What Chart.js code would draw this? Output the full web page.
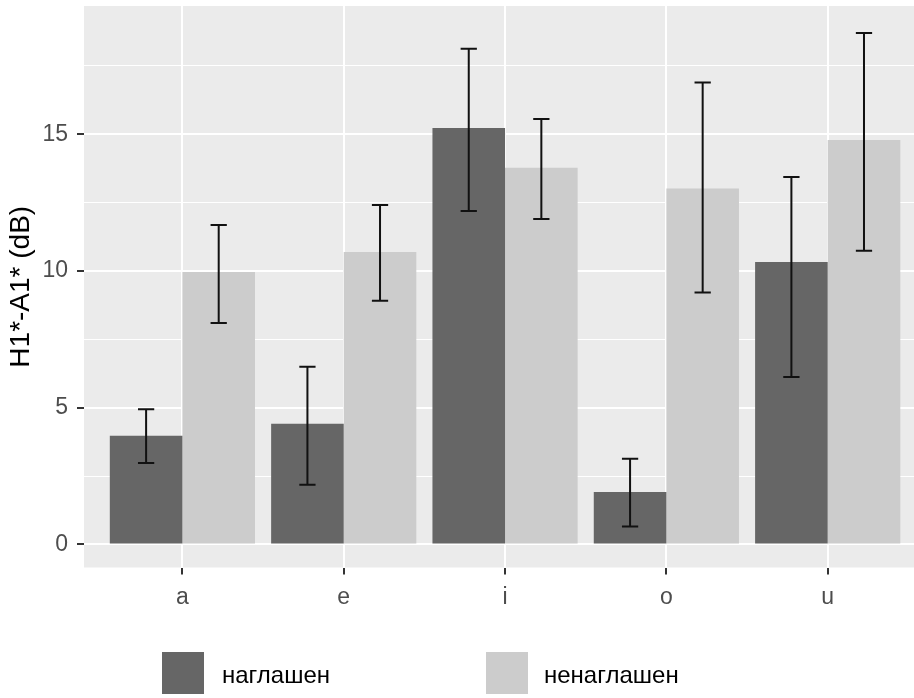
<!DOCTYPE html>
<html>
<head>
<meta charset="utf-8">
<script src="https://cdn.jsdelivr.net/npm/chart.js@4/dist/chart.umd.min.js"></script>
<style>
html,body{margin:0;padding:0;background:#fff;}
#wrap{width:914px;height:698px;position:relative;}
</style>
</head>
<body>
<div id="wrap"><canvas id="c" width="914" height="698"></canvas></div>
<script>
const categories = ['a', 'e', 'i', 'o', 'u'];
const seriesNames = ['наглашен', 'ненаглашен'];
const voicedMeans = [3.97, 4.41, 15.23, 1.92, 10.33];
const voicedLow = [2.98, 2.18, 12.19, 0.65, 6.12];
const voicedHigh = [4.94, 6.50, 18.13, 3.13, 13.44];
const unvoicedMeans = [9.96, 10.69, 13.77, 13.02, 14.79];
const unvoicedLow = [8.10, 8.91, 11.90, 9.21, 10.74];
const unvoicedHigh = [11.68, 12.41, 15.56, 16.89, 18.70];
const yTicks = [0, 2.5, 5, 7.5, 10, 12.5, 15, 17.5];
const yTitle = 'H1*-A1* (dB)';

const FONT = "'Liberation Sans', Arial, sans-serif";
const colors = ['#666666', '#cccccc'];
const lows = [voicedLow, unvoicedLow];
const highs = [voicedHigh, unvoicedHigh];

const panelBg = {
  id: 'panelBg',
  beforeDraw(chart) {
    const {ctx, chartArea: a} = chart;
    ctx.save();
    ctx.fillStyle = '#ebebeb';
    ctx.fillRect(a.left, a.top, a.right - a.left, a.bottom - a.top);
    ctx.restore();
  }
};

const errorBars = {
  id: 'errorBars',
  afterDatasetsDraw(chart) {
    const {ctx} = chart;
    const ys = chart.scales.y;
    ctx.save();
    ctx.strokeStyle = '#111111';
    ctx.lineWidth = 2;
    chart.data.datasets.forEach((ds, di) => {
      const meta = chart.getDatasetMeta(di);
      meta.data.forEach((bar, j) => {
        const x = bar.x;
        const half = bar.width * 0.112;
        const yl = ys.getPixelForValue(lows[di][j]);
        const yh = ys.getPixelForValue(highs[di][j]);
        ctx.beginPath();
        ctx.moveTo(x, yl); ctx.lineTo(x, yh);
        ctx.moveTo(x - half, yl); ctx.lineTo(x + half, yl);
        ctx.moveTo(x - half, yh); ctx.lineTo(x + half, yh);
        ctx.stroke();
      });
    });
    ctx.restore();
  }
};

const bottomLegend = {
  id: 'bottomLegend',
  afterDraw(chart) {
    const {ctx} = chart;
    const items = [
      {box: 162, text: 222},
      {box: 486, text: 544}
    ];
    ctx.save();
    ctx.font = '24px ' + FONT;
    ctx.textBaseline = 'alphabetic';
    ctx.textAlign = 'left';
    chart.data.datasets.forEach((ds, i) => {
      const it = items[i];
      ctx.fillStyle = ds.backgroundColor;
      ctx.fillRect(it.box, 652, 42, 42);
      ctx.fillStyle = '#000000';
      ctx.fillText(ds.label, it.text, 683);
    });
    ctx.restore();
  }
};

const datasets = [voicedMeans, unvoicedMeans].map((vals, i) => ({
  label: seriesNames[i],
  data: vals.map((v, k) => ({x: k + 1, y: v})),
  backgroundColor: colors[i],
  borderWidth: 0,
  categoryPercentage: 0.9,
  barPercentage: 1.0
}));

new Chart(document.getElementById('c'), {
  type: 'bar',
  data: {datasets},
  plugins: [panelBg, errorBars, bottomLegend],
  options: {
    responsive: false,
    animation: false,
    layout: {padding: {top: 6, left: 0, right: 0, bottom: 0}},
    plugins: {legend: {display: false}, tooltip: {enabled: false}},
    scales: {
      x: {
        type: 'linear',
        min: 0.39,
        max: 5.535,
        offset: false,
        afterBuildTicks(scale) {
          scale.ticks = categories.map((c, i) => ({value: i + 1}));
        },
        afterFit(scale) { scale.height = 130.5; scale.paddingLeft = 0; scale.paddingRight = 0; },
        ticks: {
          autoSkip: false,
          maxRotation: 0,
          padding: 9,
          color: '#4d4d4d',
          font: {family: FONT, size: 23},
          callback: (v) => categories[Math.round(v) - 1]
        },
        grid: {
          offset: false,
          color: '#ffffff',
          lineWidth: 2,
          tickColor: '#333333',
          tickWidth: 2,
          tickLength: 7,
          drawTicks: true
        },
        border: {display: false}
      },
      y: {
        type: 'linear',
        min: -0.845,
        max: 19.69,
        afterBuildTicks(scale) {
          scale.ticks = yTicks.map(v => ({value: v}));
        },
        afterFit(scale) { scale.width = 84; scale.paddingTop = 0; scale.paddingBottom = 0; },
        title: {
          display: true,
          text: yTitle,
          color: '#000000',
          font: {family: FONT, size: 28},
          padding: {top: 4, bottom: 0}
        },
        ticks: {
          autoSkip: false,
          padding: 9,
          color: '#4d4d4d',
          font: {family: FONT, size: 23},
          callback: (v) => (v % 5 === 0 ? String(v) : '')
        },
        grid: {
          color: '#ffffff',
          lineWidth: (c) => (c.tick && c.tick.value % 5 === 0 ? 2 : 1),
          tickColor: (c) => (c.tick && c.tick.value % 5 === 0 ? '#333333' : 'rgba(0,0,0,0)'),
          tickWidth: 2,
          tickLength: 7,
          drawTicks: true
        },
        border: {display: false}
      }
    }
  }
});
</script>
</body>
</html>
